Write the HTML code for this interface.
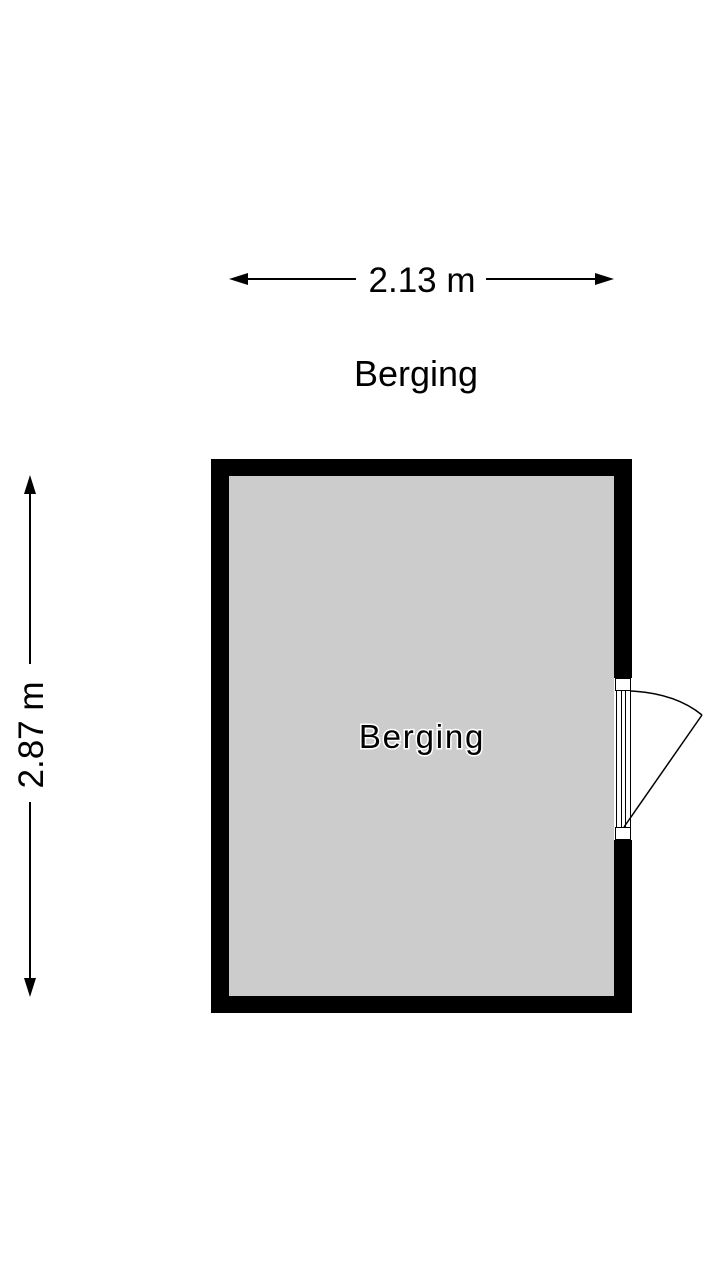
<!DOCTYPE html>
<html><head><style>body{margin:0;background:#fff}</style></head><body>
<svg width="720" height="1280" xmlns="http://www.w3.org/2000/svg" style="display:block">
<rect width="720" height="1280" fill="#fff"/>
<g font-family="Liberation Sans, sans-serif" fill="#000">
<line x1="240" y1="279" x2="356" y2="279" stroke="#000" stroke-width="2"/>
<line x1="486" y1="279" x2="602" y2="279" stroke="#000" stroke-width="2"/>
<polygon points="229,279 248,273 248,285"/>
<polygon points="614,279 595,273 595,285"/>
<text x="422" y="292" font-size="35" text-anchor="middle">2.13 m</text>
<text x="416" y="386" font-size="36" text-anchor="middle">Berging</text>
<line x1="30" y1="488" x2="30" y2="664" stroke="#000" stroke-width="2"/>
<line x1="30" y1="802" x2="30" y2="984" stroke="#000" stroke-width="2"/>
<polygon points="30,475 24,494 36,494"/>
<polygon points="30,997 24,978 36,978"/>
<text transform="translate(43,735) rotate(-90)" font-size="35" text-anchor="middle">2.87 m</text>
</g>
<rect x="211" y="459" width="421" height="554" fill="#000"/>
<rect x="229" y="476" width="385" height="520" fill="#cccccc"/>
<rect x="614" y="678" width="18" height="162" fill="#fff"/>
<rect x="615.5" y="678.5" width="15" height="12" fill="#fff" stroke="#000"/>
<rect x="615.5" y="827.5" width="15" height="12" fill="#fff" stroke="#000"/>
<g stroke="#000" stroke-width="1" fill="none">
<line x1="616.5" y1="690" x2="616.5" y2="828"/>
<line x1="621.5" y1="690" x2="621.5" y2="828"/>
<line x1="625.5" y1="690" x2="625.5" y2="828"/>
<line x1="630.5" y1="690" x2="630.5" y2="828"/>
<path d="M630,691 Q675,693 702,715" stroke-width="1.5"/>
<line x1="702" y1="715" x2="624" y2="827" stroke-width="1.5"/>
</g>
<text x="422" y="748" font-family="Liberation Sans, sans-serif" font-size="33" text-anchor="middle" letter-spacing="1.8" fill="#000" stroke="#fff" stroke-width="3" paint-order="stroke">Berging</text>
</svg>
</body></html>
